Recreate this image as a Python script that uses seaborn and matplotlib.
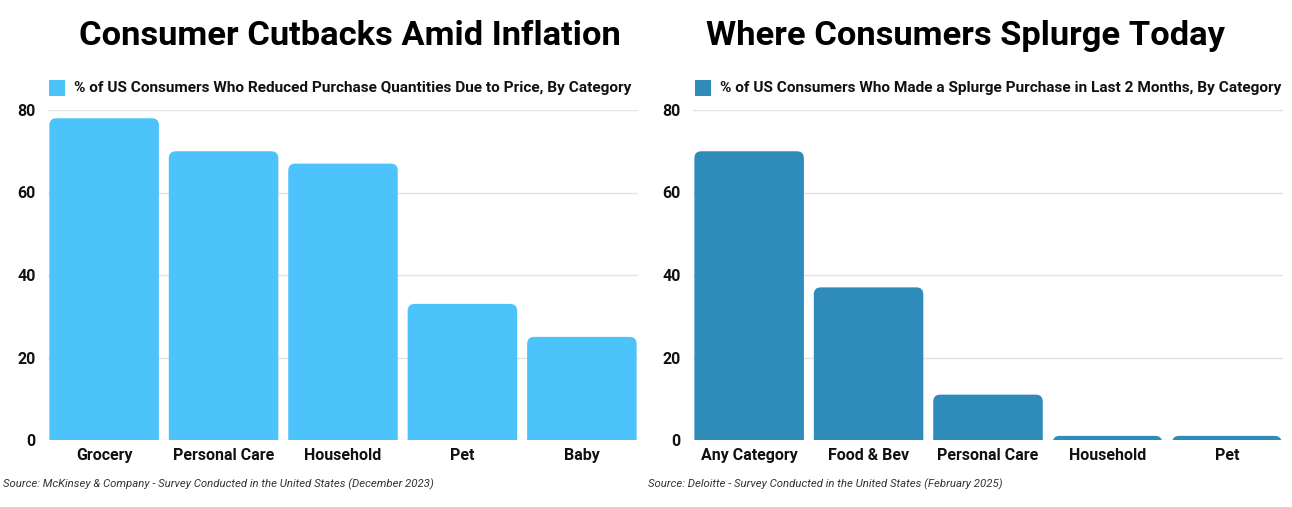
import matplotlib
matplotlib.use("Agg")
import matplotlib.pyplot as plt
from matplotlib.patches import FancyBboxPatch, Rectangle
import seaborn as sns
import pandas as pd

# ---- data ----
left_categories = ["Grocery", "Personal Care", "Household", "Pet", "Baby"]
left_values = [78, 70, 67, 33, 25]
right_categories = ["Any Category", "Food & Bev", "Personal Care", "Household", "Pet"]
right_values = [70, 37, 11, 1, 1]
y_ticks = [0, 20, 40, 60, 80]

left_title = "Consumer Cutbacks Amid Inflation"
right_title = "Where Consumers Splurge Today"
left_legend = "% of US Consumers Who Reduced Purchase Quantities Due to Price, By Category"
right_legend = "% of US Consumers Who Made a Splurge Purchase in Last 2 Months, By Category"
left_source = "Source: McKinsey & Company - Survey Conducted in the United States (December 2023)"
right_source = "Source: Deloitte - Survey Conducted in the United States (February 2025)"

LEFT_COLOR = "#4DC3FB"
RIGHT_COLOR = "#2E8BBA"

sns.set_theme(style="white")
plt.rcParams["font.family"] = ["Roboto", "DejaVu Sans"]

W, H = 1292, 507
fig = plt.figure(figsize=(W / 100, H / 100), dpi=100)

def px_axes(x0, y0, x1, y1):
    return fig.add_axes([x0 / W, 1 - y1 / H, (x1 - x0) / W, (y1 - y0) / H])

ax_l = px_axes(48, 110, 638, 440)
ax_r = px_axes(693, 110, 1283, 440)

def draw(ax, cats, vals, color):
    df = pd.DataFrame({"cat": cats, "val": vals})
    sns.barplot(data=df, x="cat", y="val", color=color, width=0.917,
                saturation=1, ax=ax, zorder=3)
    ax.set_ylim(0, 80)
    ax.set_xlim(-0.47, len(cats) - 1 + 0.47)
    ax.set_yticks(y_ticks)
    ax.yaxis.grid(True, color="#E3E3E3", linewidth=1, zorder=0)
    ax.set_axisbelow(True)
    for s in ax.spines.values():
        s.set_visible(False)
    ax.set_xlabel("")
    ax.set_ylabel("")
    ax.tick_params(axis="both", length=0, labelsize=11.5, colors="#111111")
    ax.tick_params(axis="y", pad=9)
    ax.tick_params(axis="x", pad=6)
    for lab in ax.get_xticklabels() + ax.get_yticklabels():
        lab.set_fontweight("bold")

draw(ax_l, left_categories, left_values, LEFT_COLOR)
draw(ax_r, right_categories, right_values, RIGHT_COLOR)

fig.canvas.draw()

def round_bars(ax, radius_px=7):
    t = ax.transData
    (x0, y0) = t.transform((0, 0))
    (x1, y1) = t.transform((1, 1))
    sx, sy = x1 - x0, y1 - y0
    r = radius_px / sx
    aspect = sx / sy
    for p in list(ax.patches):
        x, y, w, h = p.get_x(), p.get_y(), p.get_width(), p.get_height()
        c = p.get_facecolor()
        p.remove()
        ext = 2 * radius_px / sy
        fb = FancyBboxPatch((x, y - ext), w, h + ext,
                            boxstyle=f"round,pad=0,rounding_size={r}",
                            mutation_aspect=aspect, facecolor=c,
                            edgecolor="none", zorder=3)
        ax.add_patch(fb)
        fb.set_clip_box(ax.bbox)

round_bars(ax_l)
round_bars(ax_r)

# titles
fig.text(350 / W, 1 - 36 / H, left_title, ha="center", va="center",
         fontsize=24.8, fontweight="bold", color="#000000")
fig.text(966 / W, 1 - 36 / H, right_title, ha="center", va="center",
         fontsize=24.8, fontweight="bold", color="#000000")

# legends
for (sx0, tx0, txt, col) in [(49, 74, left_legend, LEFT_COLOR),
                             (695, 720, right_legend, RIGHT_COLOR)]:
    fig.patches.append(Rectangle((sx0 / W, 1 - 96 / H), 16 / W, 16 / H,
                                 transform=fig.transFigure, facecolor=col,
                                 edgecolor="none"))
    fig.text(tx0 / W, 1 - 88 / H, txt, ha="left", va="center",
             fontsize=11.1, fontweight="semibold", color="#111111")

# sources
fig.text(3 / W, 1 - 484 / H, left_source, ha="left", va="center",
         fontsize=8.2, style="italic", color="#333333")
fig.text(648 / W, 1 - 484 / H, right_source, ha="left", va="center",
         fontsize=8.2, style="italic", color="#333333")

fig.savefig("out.png", dpi=100)
